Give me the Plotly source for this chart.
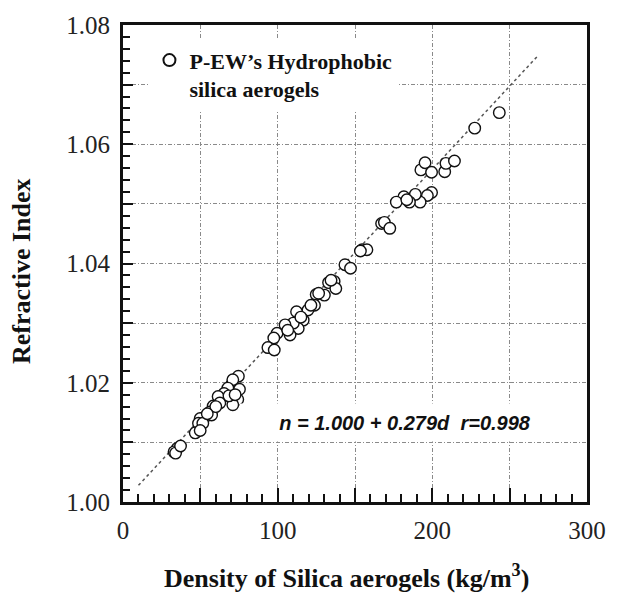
import plotly.graph_objects as go

# Data
density = [243.3, 227.4, 192.6, 195.3, 199.5, 208.0, 208.8, 214.3, 199.5, 196.8,
           192.1, 189.0, 185.2, 181.6, 176.7, 183.5, 167.2, 169.0, 172.5, 154.6,
           157.7, 153.5, 143.5, 147.1, 136.5, 132.9, 137.6, 130.2, 124.9, 126.5,
           123.8, 119.6, 112.2, 116.5, 113.3, 110.1, 104.8, 108.0, 99.6, 97.5,
           93.7, 97.8, 121.5, 115.0, 106.5, 134.5,
           74.6, 70.0, 75.3, 71.0, 67.8, 74.2, 71.0, 65.3, 61.5, 62.6,
           58.3, 56.2, 53.1, 49.9, 48.8, 51.6, 57.3, 46.7, 49.9, 35.1,
           33.0, 34.0, 37.2, 68.5, 72.5, 60.0, 54.5]
ref_index = [1.0653, 1.0627, 1.0557, 1.0569, 1.0553, 1.0554, 1.0568, 1.0572, 1.0519, 1.0514,
             1.0503, 1.0516, 1.0503, 1.0512, 1.0503, 1.0507, 1.0467, 1.0469, 1.0459, 1.0423,
             1.0423, 1.0421, 1.0398, 1.0392, 1.0370, 1.0368, 1.0358, 1.0347, 1.0348, 1.0350,
             1.0330, 1.0322, 1.0319, 1.0305, 1.0291, 1.0300, 1.0297, 1.0280, 1.0283, 1.0275,
             1.0259, 1.0255, 1.0330, 1.0310, 1.0288, 1.0372,
             1.0211, 1.0196, 1.0189, 1.0205, 1.0191, 1.0172, 1.0163, 1.0182, 1.0177, 1.0166,
             1.0161, 1.0151, 1.0143, 1.0140, 1.0132, 1.0132, 1.0146, 1.0116, 1.0120, 1.0090,
             1.0084, 1.0082, 1.0094, 1.0178, 1.0180, 1.0160, 1.0148]

fit_intercept = 1.000
fit_slope = 0.279e-3  # per kg/m3
fit_x = [10, 268]
fit_y = [fit_intercept + fit_slope * v for v in fit_x]

x_tickvals = [0, 50, 100, 150, 200, 250, 300]
x_ticktext = ["0", "", "100", "", "200", "", "300"]
y_tickvals = [1.00, 1.01, 1.02, 1.03, 1.04, 1.05, 1.06, 1.07, 1.08]
y_ticktext = ["1.00", "", "1.02", "", "1.04", "", "1.06", "", "1.08"]

legend_label = "P-EW\u2019s Hydrophobic<br>silica aerogels"
fit_label = "n = 1.000 + 0.279d\u00a0\u00a0r=0.998"
x_title = "Density of Silica aerogels (kg/m<sup>3</sup>)"
y_title = "Refractive Index"

serif = "Liberation Serif, Times New Roman, serif"
sans = "Liberation Sans, Arial, sans-serif"

fig = go.Figure()
fig.add_trace(go.Scatter(
    x=fit_x, y=fit_y, mode="lines",
    line=dict(color="#555555", width=1.5, dash="3px,3px"),
    showlegend=False, hoverinfo="skip"))
fig.add_trace(go.Scatter(
    x=density, y=ref_index, mode="markers", name="<b>" + legend_label + "</b>",
    marker=dict(symbol="circle", size=11.5, color="white",
                line=dict(color="#111111", width=1.4))))

grid_common = dict(showgrid=True, gridcolor="#8a8a8a", gridwidth=1, griddash="4px,2px,1px,2px",
                   showline=True, linecolor="#111111", linewidth=3, mirror=True,
                   zeroline=False, ticks="inside", tickcolor="#111111",
                   tickfont=dict(family=serif, size=25, color="#222222"))

fig.update_xaxes(range=[0, 300], tickmode="array", tickvals=x_tickvals, ticktext=x_ticktext,
                 ticklen=14, tickwidth=1.5, ticklabelstandoff=4,
                 minor=dict(dtick=10, ticks="inside", ticklen=8, tickwidth=1.5,
                            tickcolor="#111111", showgrid=False),
                 **grid_common)
fig.update_yaxes(range=[1.0, 1.08], tickmode="array", tickvals=y_tickvals, ticktext=y_ticktext,
                 ticklen=10, tickwidth=1.5, ticklabelstandoff=5,
                 minor=dict(dtick=0.002, ticks="inside", ticklen=7, tickwidth=1.5,
                            tickcolor="#111111", showgrid=False),
                 **grid_common)

fig.add_annotation(text="<b><i>" + fit_label + "</i></b>", xref="paper", yref="paper",
                   x=0.607, y=0.126, showarrow=False, bgcolor="white",
                   width=328, height=35,
                   font=dict(family=sans, size=20, color="#111111"))
fig.add_annotation(text="<b>" + x_title + "</b>", xref="paper", yref="paper",
                   x=0.481, y=-0.157, showarrow=False, xanchor="center", yanchor="middle",
                   font=dict(family=serif, size=26, color="#111111"))
fig.add_annotation(text="<b>" + y_title + "</b>", xref="paper", yref="paper",
                   x=-0.22, y=0.484, showarrow=False, textangle=-90,
                   xanchor="center", yanchor="middle",
                   font=dict(family=serif, size=26, color="#111111"))

fig.update_layout(
    width=618, height=593,
    margin=dict(l=123, r=22, t=25, b=91),
    paper_bgcolor="white", plot_bgcolor="white",
    showlegend=True,
    legend=dict(x=0.057, y=0.97, xanchor="left", yanchor="top",
                bgcolor="white", borderwidth=0, valign="top",
                font=dict(family=serif, size=22, color="#111111"),
                itemsizing="constant"),
)

fig.write_html("out.html", config={"displayModeBar": False},
               post_script="document.body.style.margin='0';document.body.style.overflow='hidden';")
